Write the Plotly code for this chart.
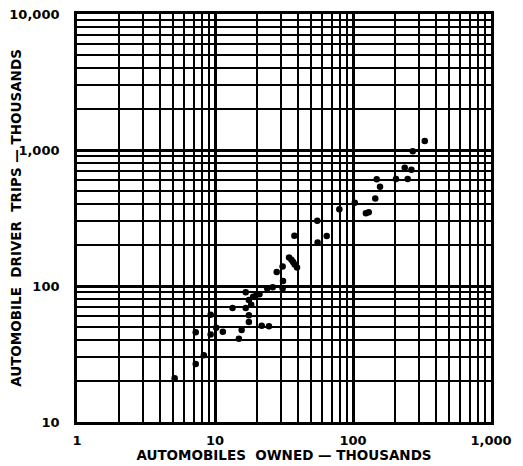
import plotly.graph_objects as go

# Automobiles owned (thousands) vs automobile driver trips (thousands)
autos_owned = [5.1, 7.25, 7.25, 8.3, 9.3, 9.3, 10.2, 11.4, 13.4, 14.9, 15.6,
               16.7, 16.7, 17.6, 17.6, 17.6, 18.3, 18.9, 20.0, 21.0, 21.8, 24.6,
               23.9, 26.2, 28.0, 30.9, 31.1, 30.9, 34.4, 35.8, 36.8, 37.8, 39.3,
               37.6, 55.1, 55.4, 64.5, 79.6, 103, 124, 130, 145, 148.5, 157,
               205, 237, 249, 265, 271, 331]
driver_trips = [21, 26.7, 45.7, 31, 44, 61.5, 49.4, 46, 69, 41, 47.5,
                90, 69, 79, 61, 54.4, 72.7, 83.4, 86.5, 87, 51, 50.5,
                96, 98, 127, 96, 109, 139, 162, 156, 150, 144, 137,
                234, 302, 209, 233, 366, 410, 342, 348, 439, 609, 537,
                612, 741, 612, 716, 979, 1165]

x_major = [1, 10, 100, 1000]
x_major_text = ["1", "10", "100", "1,000"]
y_major = [10, 100, 1000, 10000]
y_major_text = ["10", "100", "1,000", "10,000"]
minor_digits = [2, 3, 4, 5, 6, 7, 8, 9]

x_minor = [d * m for m in x_major[:-1] for d in minor_digits]
y_minor = [d * m for m in y_major[:-1] for d in minor_digits]

FONT = "DejaVu Sans"

fig = go.Figure()
fig.add_trace(go.Scatter(
    x=autos_owned, y=driver_trips, mode="markers",
    marker=dict(color="black", size=6.5, line=dict(width=0)),
    showlegend=False, cliponaxis=False,
))

axis_common = dict(
    type="log",
    tickmode="array",
    showgrid=True, gridcolor="black", gridwidth=2.6,
    showline=True, linecolor="black", linewidth=2.8, mirror=True,
    ticks="", zeroline=False,
    ticklabeloverflow="allow",
    tickfont=dict(family=FONT, size=13, color="black", weight="bold"),
)

fig.update_xaxes(
    **axis_common,
    range=[0, 3],
    tickvals=x_major, ticktext=x_major_text,
    minor=dict(tickvals=x_minor, showgrid=True, gridcolor="black", gridwidth=1.7, ticks=""),
    title=dict(text="AUTOMOBILES  OWNED — THOUSANDS",
               font=dict(family=FONT, size=13.5, color="black", weight="bold"),
               standoff=4),
    ticklabelstandoff=4,
)
fig.update_yaxes(
    **axis_common,
    range=[1, 4],
    tickvals=y_major, ticktext=y_major_text,
    minor=dict(tickvals=y_minor, showgrid=True, gridcolor="black", gridwidth=1.7, ticks=""),
    title=dict(text="AUTOMOBILE  DRIVER  TRIPS — THOUSANDS",
               font=dict(family=FONT, size=13.5, color="black", weight="bold"),
               standoff=10),
    ticklabelstandoff=12,
)

# The page places the figure 8px in from the top-left corner.
fig.update_layout(
    width=515, height=458,
    margin=dict(l=69, r=32, t=6, b=44, autoexpand=False),
    plot_bgcolor="white", paper_bgcolor="white",
    font=dict(family=FONT, color="black"),
)

fig.write_html("out.html")
